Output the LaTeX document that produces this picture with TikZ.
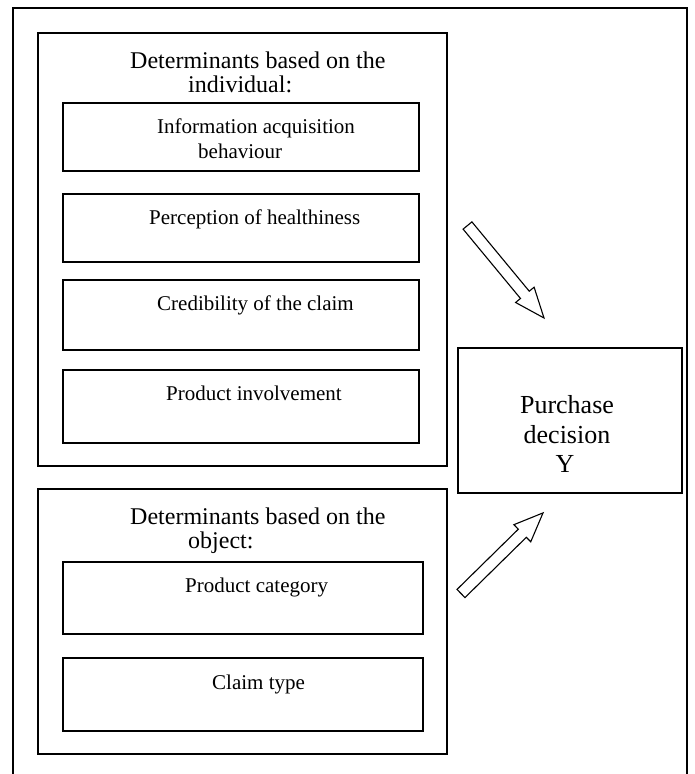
\documentclass[tikz,border=0pt]{standalone}
\usepackage{fontspec}
\setmainfont{Liberation Serif}
\begin{document}
\begin{tikzpicture}[x=1pt,y=-1pt,
  frame/.style={draw=black,line width=1.3pt,inner sep=0pt,outer sep=0pt,anchor=north west},
  head/.style={inner sep=0pt,anchor=base west,font=\fontsize{24}{24}\selectfont},
  item/.style={inner sep=0pt,anchor=base west,font=\fontsize{21}{21}\selectfont},
  big/.style={inner sep=0pt,anchor=base,font=\fontsize{26}{26}\selectfont},
  blockarrow/.style={draw=black,line width=1.1pt,fill=white,line join=miter}]
\useasboundingbox (0,0) rectangle (694,774);
% outer frame (bottom edge lies outside the picture)
\coordinate (o1) at (13,790);
\coordinate (o2) at (13,8);
\coordinate (o3) at (687,8);
\coordinate (o4) at (687,790);
\draw[line width=1.3pt] (o1) -- (o2) -- (o3) -- (o4);
% group boxes
\node[frame,minimum width=409,minimum height=433] (g1) at (38,33) {};
\node[frame,minimum width=409,minimum height=265] (g2) at (38,489) {};
% inner boxes
\node[frame,minimum width=356,minimum height=68] (b1) at (63,103) {};
\node[frame,minimum width=356,minimum height=68] (b2) at (63,194) {};
\node[frame,minimum width=356,minimum height=70] (b3) at (63,280) {};
\node[frame,minimum width=356,minimum height=73] (b4) at (63,370) {};
\node[frame,minimum width=360,minimum height=72] (b5) at (63,562) {};
\node[frame,minimum width=360,minimum height=73] (b6) at (63,658) {};
\node[frame,minimum width=224,minimum height=145] (py) at (458,348) {};
% texts
\node[head] (h1a) at (130,68) {Determinants based on the};
\node[head] (h1b) at (188,92.5) {individual:};
\node[item] (t1a) at (157,133) {Information acquisition};
\node[item] (t1b) at (198,158) {behaviour};
\node[item] (t2) at (149,224) {Perception of healthiness};
\node[item] (t3) at (157,310) {Credibility of the claim};
\node[item] (t4) at (166,400) {Product involvement};
\node[head] (h2a) at (130,524) {Determinants based on the};
\node[head] (h2b) at (188,548.5) {object:};
\node[item] (t5) at (185,592) {Product category};
\node[item] (t6) at (212,689) {Claim type};
\node[big] (p1) at (567,413) {Purchase};
\node[big] (p2) at (567,443) {decision};
\node[big] (p3) at (565,472) {Y};
% block arrows
\coordinate (a1) at (467.5,225.5);
\coordinate (a2) at (461,593.5);
\begin{scope}[shift={(a1)},rotate=-50.4]
  \draw[blockarrow] (0,-5.7) -- (90,-5.7) -- (90,-12) -- (120,0) -- (90,12) -- (90,5.7) -- (0,5.7) -- cycle;
\end{scope}
\begin{scope}[shift={(a2)},rotate=44.5]
  \draw[blockarrow] (0,-5.7) -- (86,-5.7) -- (86,-12) -- (115,0) -- (86,12) -- (86,5.7) -- (0,5.7) -- cycle;
\end{scope}
\end{tikzpicture}
\end{document}
